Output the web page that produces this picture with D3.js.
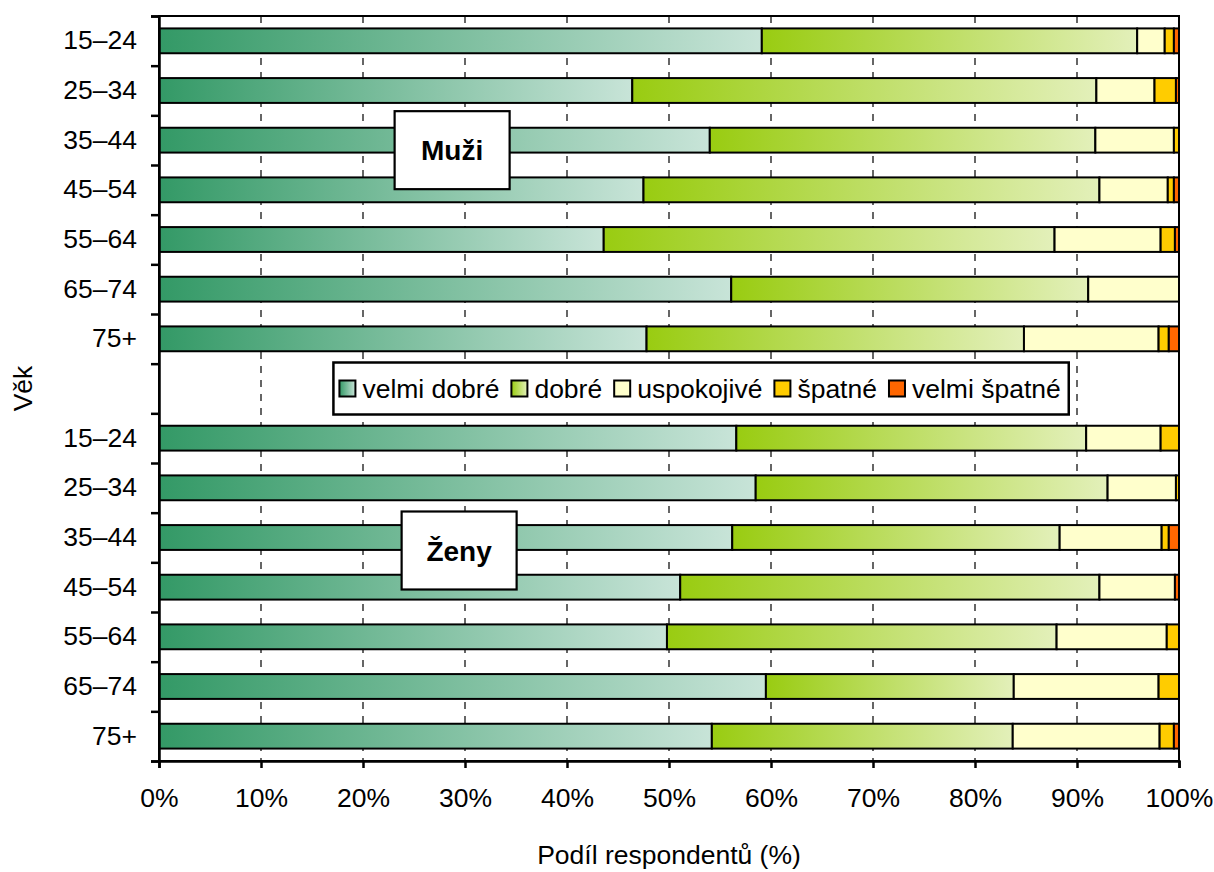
<!DOCTYPE html>
<html>
<head>
<meta charset="utf-8">
<script src="https://cdn.jsdelivr.net/npm/d3@7"></script>
<style>
  body { margin: 0; background: #fff; }
  svg { font-family: "Liberation Sans", Arial, sans-serif; }
</style>
</head>
<body>
<svg id="chart"></svg>
<script>
// age groups (same for both sexes)
const ageGroups = ["15–24", "25–34", "35–44", "45–54", "55–64", "65–74", "75+"];
const categories = ["velmi dobré", "dobré", "uspokojivé", "špatné", "velmi špatné"];

// share of respondents (%) per age group, order as categories
const muzi = [
    [59.1, 36.8, 2.7, 0.9, 0.5],
    [46.4, 45.5, 5.7, 2.1, 0.3],
    [54.0, 37.8, 7.7, 0.5, 0.0],
    [47.5, 44.7, 6.7, 0.6, 0.5],
    [43.6, 44.2, 10.4, 1.4, 0.4],
    [56.1, 35.0, 8.9, 0.0, 0.0],
    [47.8, 37.0, 13.2, 1.0, 1.0]
];
const zeny = [
    [56.6, 34.3, 7.3, 1.8, 0.0],
    [58.5, 34.5, 6.7, 0.3, 0.0],
    [56.2, 32.1, 10.0, 0.7, 1.0],
    [51.1, 41.1, 7.4, 0.0, 0.4],
    [49.8, 38.2, 10.8, 1.2, 0.0],
    [59.5, 24.3, 14.2, 2.0, 0.0],
    [54.2, 29.5, 14.4, 1.4, 0.5]
];
const xTicks = [0, 10, 20, 30, 40, 50, 60, 70, 80, 90, 100];

// [start colour, end colour] of each category fill
const fills = [
    ["#339966", "#c8e4d8"],
    ["#99cc11", "#e3f0ba"],
    ["#ffffcc", "#ffffcc"],
    ["#ffcc00", "#ffcc00"],
    ["#ff6600", "#ff6600"]
];

const margin = { top: 16, right: 35, bottom: 111, left: 159 };
const width = 1020, height = 745;
const fontSize = 26.5;

const svg = d3.select("#chart")
    .attr("width", width + margin.left + margin.right)
    .attr("height", height + margin.top + margin.bottom);

const defs = svg.append("defs");
fills.forEach((f, i) => {
    const g = defs.append("linearGradient").attr("id", "grad" + i)
        .attr("x1", "0%").attr("x2", "100%").attr("y1", "0%").attr("y2", "0%");
    g.append("stop").attr("offset", "0%").attr("stop-color", f[0]);
    g.append("stop").attr("offset", "100%").attr("stop-color", f[1]);
});

// rows: men, blank row for the legend, women
const rows = [];
ageGroups.forEach((a, i) => {
    const r = { id: "m" + i, label: a };
    categories.forEach((c, j) => r[c] = muzi[i][j]);
    rows.push(r);
});
rows.push(Object.assign({ id: "gap", label: "" }, Object.fromEntries(categories.map(c => [c, 0]))));
ageGroups.forEach((a, i) => {
    const r = { id: "z" + i, label: a };
    categories.forEach((c, j) => r[c] = zeny[i][j]);
    rows.push(r);
});

const x = d3.scaleLinear().domain([0, 100]).range([0, width]);
const y = d3.scaleBand().domain(rows.map(d => d.id)).range([0, height])
    .paddingInner(0.5).paddingOuter(0.25);
const yEdge = d3.scaleLinear().domain([0, rows.length]).range([0, height]);

const g = svg.append("g").attr("transform", `translate(${margin.left},${margin.top})`);

// dashed gridlines
g.append("g").selectAll("line")
    .data(xTicks.filter(t => t > 0 && t < 100))
    .join("line")
    .attr("x1", d => x(d)).attr("x2", d => x(d))
    .attr("y1", 0).attr("y2", height)
    .attr("stroke", "#000")
    .attr("stroke-width", 1.2)
    .attr("stroke-dasharray", "7,7");

const stacked = d3.stack().keys(categories)(rows.filter(d => d.id !== "gap"));

g.append("g").selectAll("g")
    .data(stacked)
    .join("g")
    .attr("fill", (d, i) => `url(#grad${i})`)
    .selectAll("rect")
    .data(d => d.filter(s => s[1] - s[0] > 0))
    .join("rect")
    .attr("x", d => x(d[0]))
    .attr("width", d => x(d[1]) - x(d[0]))
    .attr("y", d => y(d.data.id))
    .attr("height", y.bandwidth())
    .attr("stroke", "#000")
    .attr("stroke-width", 2);

// plot border (top / right)
g.append("rect")
    .attr("width", width).attr("height", height)
    .attr("fill", "none").attr("stroke", "#000").attr("stroke-width", 2);

// y axis: labels and boundary ticks
const labelById = Object.fromEntries(rows.map(d => [d.id, d.label]));
const yAxis = g.append("g")
    .call(d3.axisLeft(y).tickSize(0).tickPadding(22).tickFormat(d => labelById[d]));
yAxis.select(".domain").remove();
yAxis.selectAll("text").attr("font-size", fontSize).attr("font-family", null).attr("fill", "#000");

const yTicks = g.append("g")
    .call(d3.axisLeft(yEdge).tickValues(d3.range(rows.length + 1)).tickSize(8).tickFormat(""));
yTicks.selectAll("line, path").attr("stroke", "#000").attr("stroke-width", 2.5);

// x axis
const xAxis = g.append("g")
    .attr("transform", `translate(0,${height})`)
    .call(d3.axisBottom(x).tickValues(xTicks).tickSize(7).tickPadding(20).tickFormat(d => d + "%"));
xAxis.selectAll("line, path").attr("stroke", "#000").attr("stroke-width", 2.5);
xAxis.selectAll("text").attr("font-size", fontSize).attr("font-family", null).attr("fill", "#000");

// axis titles
svg.append("text")
    .attr("x", margin.left + width / 2)
    .attr("y", 864)
    .attr("text-anchor", "middle")
    .attr("font-size", fontSize)
    .text("Podíl respondentů (%)");

svg.append("text")
    .attr("transform", `translate(32, ${margin.top + height / 2}) rotate(-90)`)
    .attr("text-anchor", "middle")
    .attr("font-size", fontSize)
    .text("Věk");

// group labels
function groupBox(text, rowId, shift) {
    const cy = y(rowId) + y.bandwidth() / 2 + shift;
    const bx = x(23.1) + (rowId[0] === "z" ? 7 : 0);
    const box = g.append("g");
    box.append("rect")
        .attr("x", bx)
        .attr("y", cy - 39)
        .attr("width", 115).attr("height", 78)
        .attr("fill", "#fff").attr("stroke", "#000").attr("stroke-width", 2.2);
    box.append("text")
        .attr("x", bx + 57.5)
        .attr("y", cy + 10)
        .attr("text-anchor", "middle")
        .attr("font-size", 28)
        .attr("font-weight", "bold")
        .text(text);
}
groupBox("Muži", "m2", 10);
groupBox("Ženy", "z2", 13);

// legend in the blank row
const legend = g.append("g");
const legendBox = legend.append("rect")
    .attr("fill", "#fff").attr("stroke", "#000").attr("stroke-width", 2.5);
const lx0 = x(17.1);
let lx = lx0 + 6;
const ly = y("gap") + y.bandwidth() / 2;
categories.forEach((c, i) => {
    legend.append("rect")
        .attr("x", lx).attr("y", ly - 8)
        .attr("width", 16).attr("height", 16)
        .attr("fill", `url(#grad${i})`)
        .attr("stroke", "#000").attr("stroke-width", 2);
    const t = legend.append("text")
        .attr("x", lx + 23).attr("y", ly + 9.5)
        .attr("font-size", fontSize)
        .text(c);
    lx += 23 + t.node().getComputedTextLength() + 12;
});
legendBox
    .attr("x", lx0).attr("y", ly - 26)
    .attr("width", lx - lx0 - 4).attr("height", 52);
</script>
</body>
</html>
